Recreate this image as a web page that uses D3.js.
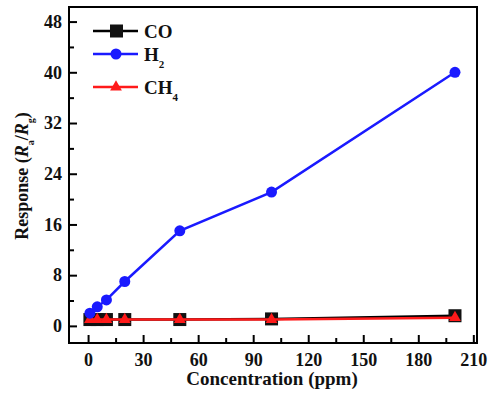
<!DOCTYPE html>
<html>
<head>
<meta charset="utf-8">
<script src="https://cdn.jsdelivr.net/npm/d3@7"></script>
<style>
  body { margin: 0; background: #fff; }
  text { font-family: "Liberation Serif", "DejaVu Serif", serif; font-weight: bold; }
</style>
</head>
<body>
<svg id="chart"></svg>
<script>
// data
const conc = [1, 5, 10, 20, 50, 100, 200];
const co = [1.0, 1.0, 1.0, 1.0, 1.0, 1.1, 1.6];
const h2 = [2.0, 3.0, 4.1, 7.0, 15.0, 21.1, 40.0];
const ch4 = [1.0, 1.0, 1.0, 1.0, 1.0, 1.0, 1.3];
const xTicks = [0, 30, 60, 90, 120, 150, 180, 210];
const yTicks = [0, 8, 16, 24, 32, 40, 48];

const width = 493, height = 393;
const mLeft = 69, mRight = 477, mTop = 7, mBottom = 343;

const svg = d3.select("#chart")
    .attr("width", width)
    .attr("height", height);

const x = d3.scaleLinear().domain([-10.4, 212]).range([mLeft, mRight]);
const y = d3.scaleLinear().domain([-2.7, 50.3]).range([mBottom, mTop]);

// axes, ticks pointing inward
const xMinor = d3.range(15, 210, 30);
const yMinor = d3.range(4, 50, 8);

svg.append("g")
    .attr("transform", `translate(0,${mBottom})`)
    .call(d3.axisBottom(x).tickValues(xMinor).tickSize(-5).tickFormat(""))
    .call(g => g.select(".domain").remove())
    .selectAll("line").attr("stroke-width", 2);

const xAxis = svg.append("g")
    .attr("transform", `translate(0,${mBottom})`)
    .call(d3.axisBottom(x).tickValues(xTicks).tickSize(-8).tickPadding(10));
xAxis.select(".domain").remove();
xAxis.selectAll("line").attr("stroke-width", 2);
xAxis.selectAll("text").attr("font-size", 18).attr("fill", "#111");

svg.append("g")
    .attr("transform", `translate(${mLeft},0)`)
    .call(d3.axisLeft(y).tickValues(yMinor).tickSize(-5).tickFormat(""))
    .call(g => g.select(".domain").remove())
    .selectAll("line").attr("stroke-width", 2);

const yAxis = svg.append("g")
    .attr("transform", `translate(${mLeft},0)`)
    .call(d3.axisLeft(y).tickValues(yTicks).tickSize(-8).tickPadding(7));
yAxis.select(".domain").remove();
yAxis.selectAll("line").attr("stroke-width", 2);
yAxis.selectAll("text").attr("font-size", 18).attr("fill", "#111");

svg.append("rect")
    .attr("x", mLeft).attr("y", mTop)
    .attr("width", mRight - mLeft).attr("height", mBottom - mTop)
    .attr("fill", "none").attr("stroke", "#000").attr("stroke-width", 2);

// series
const line = d3.line().x((d, i) => x(conc[i])).y(d => y(d));

svg.append("path").datum(co)
    .attr("d", line).attr("fill", "none")
    .attr("stroke", "#000").attr("stroke-width", 2.5);
svg.selectAll(".co").data(co).join("rect")
    .attr("x", (d, i) => x(conc[i]) - 6.5)
    .attr("y", d => y(d) - 6.5)
    .attr("width", 13).attr("height", 13)
    .attr("fill", "#111");

svg.append("path").datum(ch4)
    .attr("d", line).attr("fill", "none")
    .attr("stroke", "#ff1a1a").attr("stroke-width", 2.5);
const tri = d3.symbol().type(d3.symbolTriangle).size(60);
svg.selectAll(".ch4").data(ch4).join("path")
    .attr("transform", (d, i) => `translate(${x(conc[i])},${y(d)})`)
    .attr("d", tri)
    .attr("fill", "#ff1a1a");

svg.append("path").datum(h2)
    .attr("d", line).attr("fill", "none")
    .attr("stroke", "#1a1aff").attr("stroke-width", 2.5);
svg.selectAll(".h2").data(h2).join("circle")
    .attr("cx", (d, i) => x(conc[i]))
    .attr("cy", d => y(d))
    .attr("r", 5.5)
    .attr("fill", "#1a1aff");

// legend
const legend = [
  { name: "CO", sub: "", color: "#000", y: 31, shape: "square" },
  { name: "H", sub: "2", color: "#1a1aff", y: 54, shape: "circle" },
  { name: "CH", sub: "4", color: "#ff1a1a", y: 87, shape: "triangle" }
];
legend.forEach(l => {
  svg.append("line")
      .attr("x1", 93).attr("x2", 138).attr("y1", l.y).attr("y2", l.y)
      .attr("stroke", l.color).attr("stroke-width", 2.5);
  if (l.shape === "square") {
    svg.append("rect").attr("x", 110).attr("y", l.y - 6.5)
        .attr("width", 13).attr("height", 13).attr("fill", "#111");
  } else if (l.shape === "circle") {
    svg.append("circle").attr("cx", 116).attr("cy", l.y).attr("r", 5.5).attr("fill", l.color);
  } else {
    svg.append("path").attr("transform", `translate(116,${l.y})`)
        .attr("d", tri).attr("fill", l.color);
  }
  const t = svg.append("text")
      .attr("x", 144).attr("y", l.y + 7)
      .attr("font-size", 19).attr("fill", "#111");
  t.append("tspan").text(l.name);
  if (l.sub) t.append("tspan").attr("dy", 7).attr("font-size", 11).text(l.sub);
});

// axis titles
svg.append("text")
    .attr("x", 272).attr("y", 385)
    .attr("text-anchor", "middle")
    .attr("font-size", 19).attr("fill", "#111")
    .text("Concentration (ppm)");

const yl = svg.append("text")
    .attr("transform", `translate(28,176) rotate(-90)`)
    .attr("text-anchor", "middle")
    .attr("font-size", 18).attr("fill", "#111");
yl.append("tspan").text("Response (");
yl.append("tspan").attr("font-style", "italic").text("R");
yl.append("tspan").attr("dy", 6).attr("font-size", 10).text("a");
yl.append("tspan").attr("dy", -6).text("/");
yl.append("tspan").attr("font-style", "italic").text("R");
yl.append("tspan").attr("dy", 6).attr("font-size", 10).text("g");
yl.append("tspan").attr("dy", -6).text(")");
</script>
</body>
</html>
